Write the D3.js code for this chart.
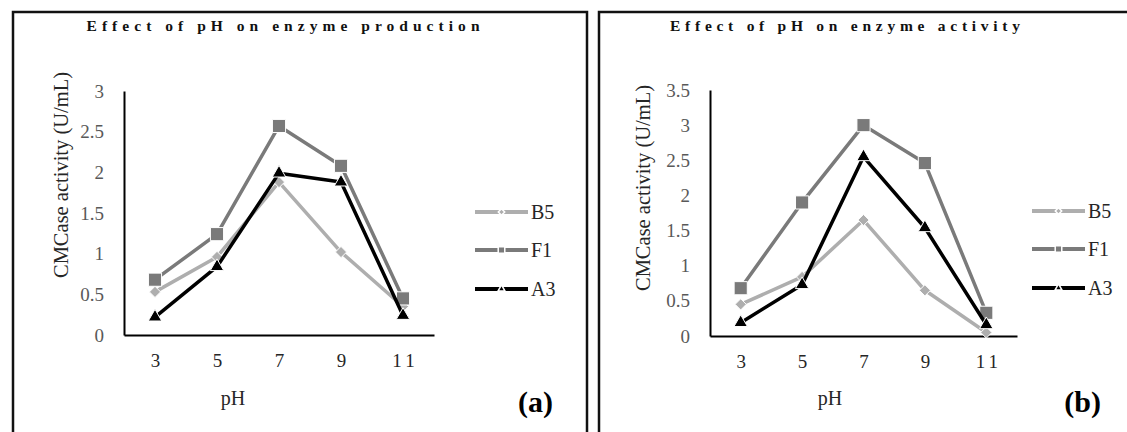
<!DOCTYPE html>
<html>
<head>
<meta charset="utf-8">
<script src="https://cdn.jsdelivr.net/npm/d3@7"></script>
<style>
  body { margin: 0; background: #fff; }
  svg text { font-family: "Liberation Serif", "DejaVu Serif", serif; }
</style>
</head>
<body>
<div id="chart"></div>
<script>
// Data
const phLabels = ["3", "5", "7", "9", "11"];
const seriesNames = ["B5", "F1", "A3"];

// (a) enzyme production
const prodB5 = [0.53, 0.96, 1.88, 1.02, 0.35];
const prodF1 = [0.68, 1.24, 2.57, 2.08, 0.45];
const prodA3 = [0.22, 0.84, 1.99, 1.88, 0.24];
const prodTicks = [0, 0.5, 1, 1.5, 2, 2.5, 3];

// (b) enzyme activity
const actB5 = [0.45, 0.84, 1.65, 0.65, 0.05];
const actF1 = [0.68, 1.90, 3.00, 2.46, 0.33];
const actA3 = [0.19, 0.73, 2.55, 1.54, 0.16];
const actTicks = [0, 0.5, 1, 1.5, 2, 2.5, 3, 3.5];

const svgWidth = 1127;
const svgHeight = 432;
const serif = '"Liberation Serif", "DejaVu Serif", serif';

const svg = d3.select('#chart')
    .append('svg')
    .attr('width', svgWidth)
    .attr('height', svgHeight)
    .attr('font-family', serif);

// series look: colour and marker
const styles = {
    B5: { color: '#aeaeae', symbol: d3.symbolDiamond2, size: 80, legendSize: 26 },
    F1: { color: '#7a7a7a', symbol: d3.symbolSquare2, size: 220, legendSize: 55 },
    A3: { color: '#000000', symbol: d3.symbolTriangle2, size: 130, legendSize: 35 }
};

function drawPanel(opts) {
    const g = svg.append('g');

    // panel frame (runs off the bottom / right of the picture)
    g.append('rect')
        .attr('x', opts.frame[0])
        .attr('y', 12)
        .attr('width', opts.frame[1] - opts.frame[0])
        .attr('height', 460)
        .attr('fill', 'none')
        .attr('stroke', '#111')
        .attr('stroke-width', 2.5);

    const x = d3.scalePoint()
        .domain(phLabels)
        .range([opts.left, opts.right])
        .padding(0.5);

    const y = d3.scaleLinear()
        .domain([0, d3.max(opts.ticks)])
        .range([opts.bottom, opts.top]);

    // title
    g.append('text')
        .attr('x', opts.titleX)
        .attr('y', 31)
        .attr('text-anchor', 'middle')
        .attr('font-family', serif)
        .attr('font-weight', 'bold')
        .attr('font-size', 15.5)
        .attr('textLength', opts.titleLen)
        .attr('lengthAdjust', 'spacing')
        .attr('fill', '#111')
        .text(opts.title);

    // y axis
    const yAxis = g.append('g')
        .attr('transform', `translate(${opts.left},0)`)
        .call(d3.axisLeft(y).tickValues(opts.ticks).tickSize(0).tickPadding(20)
            .tickFormat(d3.format('')));
    yAxis.attr('font-family', serif);
    yAxis.select('.domain').attr('stroke', '#000').attr('stroke-width', 2);
    yAxis.selectAll('text')
        .attr('font-family', serif)
        .attr('font-size', 19)
        .attr('fill', '#595959');

    // x axis
    const xAxis = g.append('g')
        .attr('transform', `translate(0,${opts.bottom})`)
        .call(d3.axisBottom(x).tickSize(0).tickPadding(19));
    xAxis.attr('font-family', serif);
    xAxis.select('.domain').attr('stroke', '#000').attr('stroke-width', 2);
    xAxis.selectAll('text')
        .attr('font-family', serif)
        .attr('font-size', 19)
        .attr('fill', '#262626')
        .attr('letter-spacing', d => d === '11' ? 4 : 0)
        .attr('dx', d => d === '11' ? 2 : 0);

    // axis titles
    g.append('text')
        .attr('transform', `translate(${opts.yTitleX},${opts.yTitleY}) rotate(-90)`)
        .attr('text-anchor', 'middle')
        .attr('font-family', serif)
        .attr('font-size', 20.5)
        .attr('fill', '#262626')
        .text('CMCase activity (U/mL)');

    g.append('text')
        .attr('x', opts.pHX)
        .attr('y', 405)
        .attr('text-anchor', 'middle')
        .attr('font-family', serif)
        .attr('font-size', 20)
        .attr('fill', '#262626')
        .text('pH');

    // lines and markers
    const line = d3.line()
        .x((d, i) => x(phLabels[i]))
        .y(d => y(d));

    opts.series.forEach((vals, si) => {
        const st = styles[seriesNames[si]];
        g.append('path')
            .datum(vals)
            .attr('d', line)
            .attr('fill', 'none')
            .attr('stroke', st.color)
            .attr('stroke-width', 3.5)
            .attr('stroke-linejoin', 'round');

        g.selectAll(null)
            .data(vals)
            .enter()
            .append('path')
            .attr('transform', (d, i) => `translate(${x(phLabels[i])},${y(d)})`)
            .attr('d', d3.symbol().type(st.symbol).size(st.size))
            .attr('fill', st.color)
            .attr('stroke', '#fff')
            .attr('stroke-width', 1);
    });

    // legend
    seriesNames.forEach((name, i) => {
        const st = styles[name];
        const ly = opts.legendY[i];
        const lg = g.append('g');
        lg.append('line')
            .attr('x1', opts.legendX)
            .attr('x2', opts.legendX + 53)
            .attr('y1', ly)
            .attr('y2', ly)
            .attr('stroke', st.color)
            .attr('stroke-width', 4);
        lg.append('path')
            .attr('transform', `translate(${opts.legendX + 26.5},${ly})`)
            .attr('d', d3.symbol().type(st.symbol).size(st.legendSize))
            .attr('fill', st.color)
            .attr('stroke', '#fff')
            .attr('stroke-width', 1.5);
        lg.append('text')
            .attr('x', opts.legendX + 56)
            .attr('y', ly + 7)
            .attr('font-family', serif)
            .attr('font-size', 20)
            .attr('fill', '#262626')
            .text(name);
    });

    // panel tag
    g.append('text')
        .attr('x', opts.tagX)
        .attr('y', 412)
        .attr('text-anchor', 'end')
        .attr('font-family', serif)
        .attr('font-weight', 'bold')
        .attr('font-size', 30)
        .attr('fill', '#000')
        .text(opts.tag);
}

drawPanel({
    frame: [13, 587],
    left: 124, right: 434, top: 91, bottom: 335,
    ticks: prodTicks,
    series: [prodB5, prodF1, prodA3],
    title: 'Effect of pH on enzyme production',
    titleX: 283, titleLen: 393,
    yTitleX: 68, yTitleY: 175,
    pHX: 233,
    legendX: 475, legendY: [212, 250, 289],
    tagX: 553, tag: '(a)'
});

drawPanel({
    frame: [599, 1140],
    left: 710, right: 1017, top: 90, bottom: 336,
    ticks: actTicks,
    series: [actB5, actF1, actA3],
    title: 'Effect of pH on enzyme activity',
    titleX: 845, titleLen: 350,
    yTitleX: 650, yTitleY: 188,
    pHX: 830,
    legendX: 1032, legendY: [211, 249, 288],
    tagX: 1101, tag: '(b)'
});
</script>
</body>
</html>
